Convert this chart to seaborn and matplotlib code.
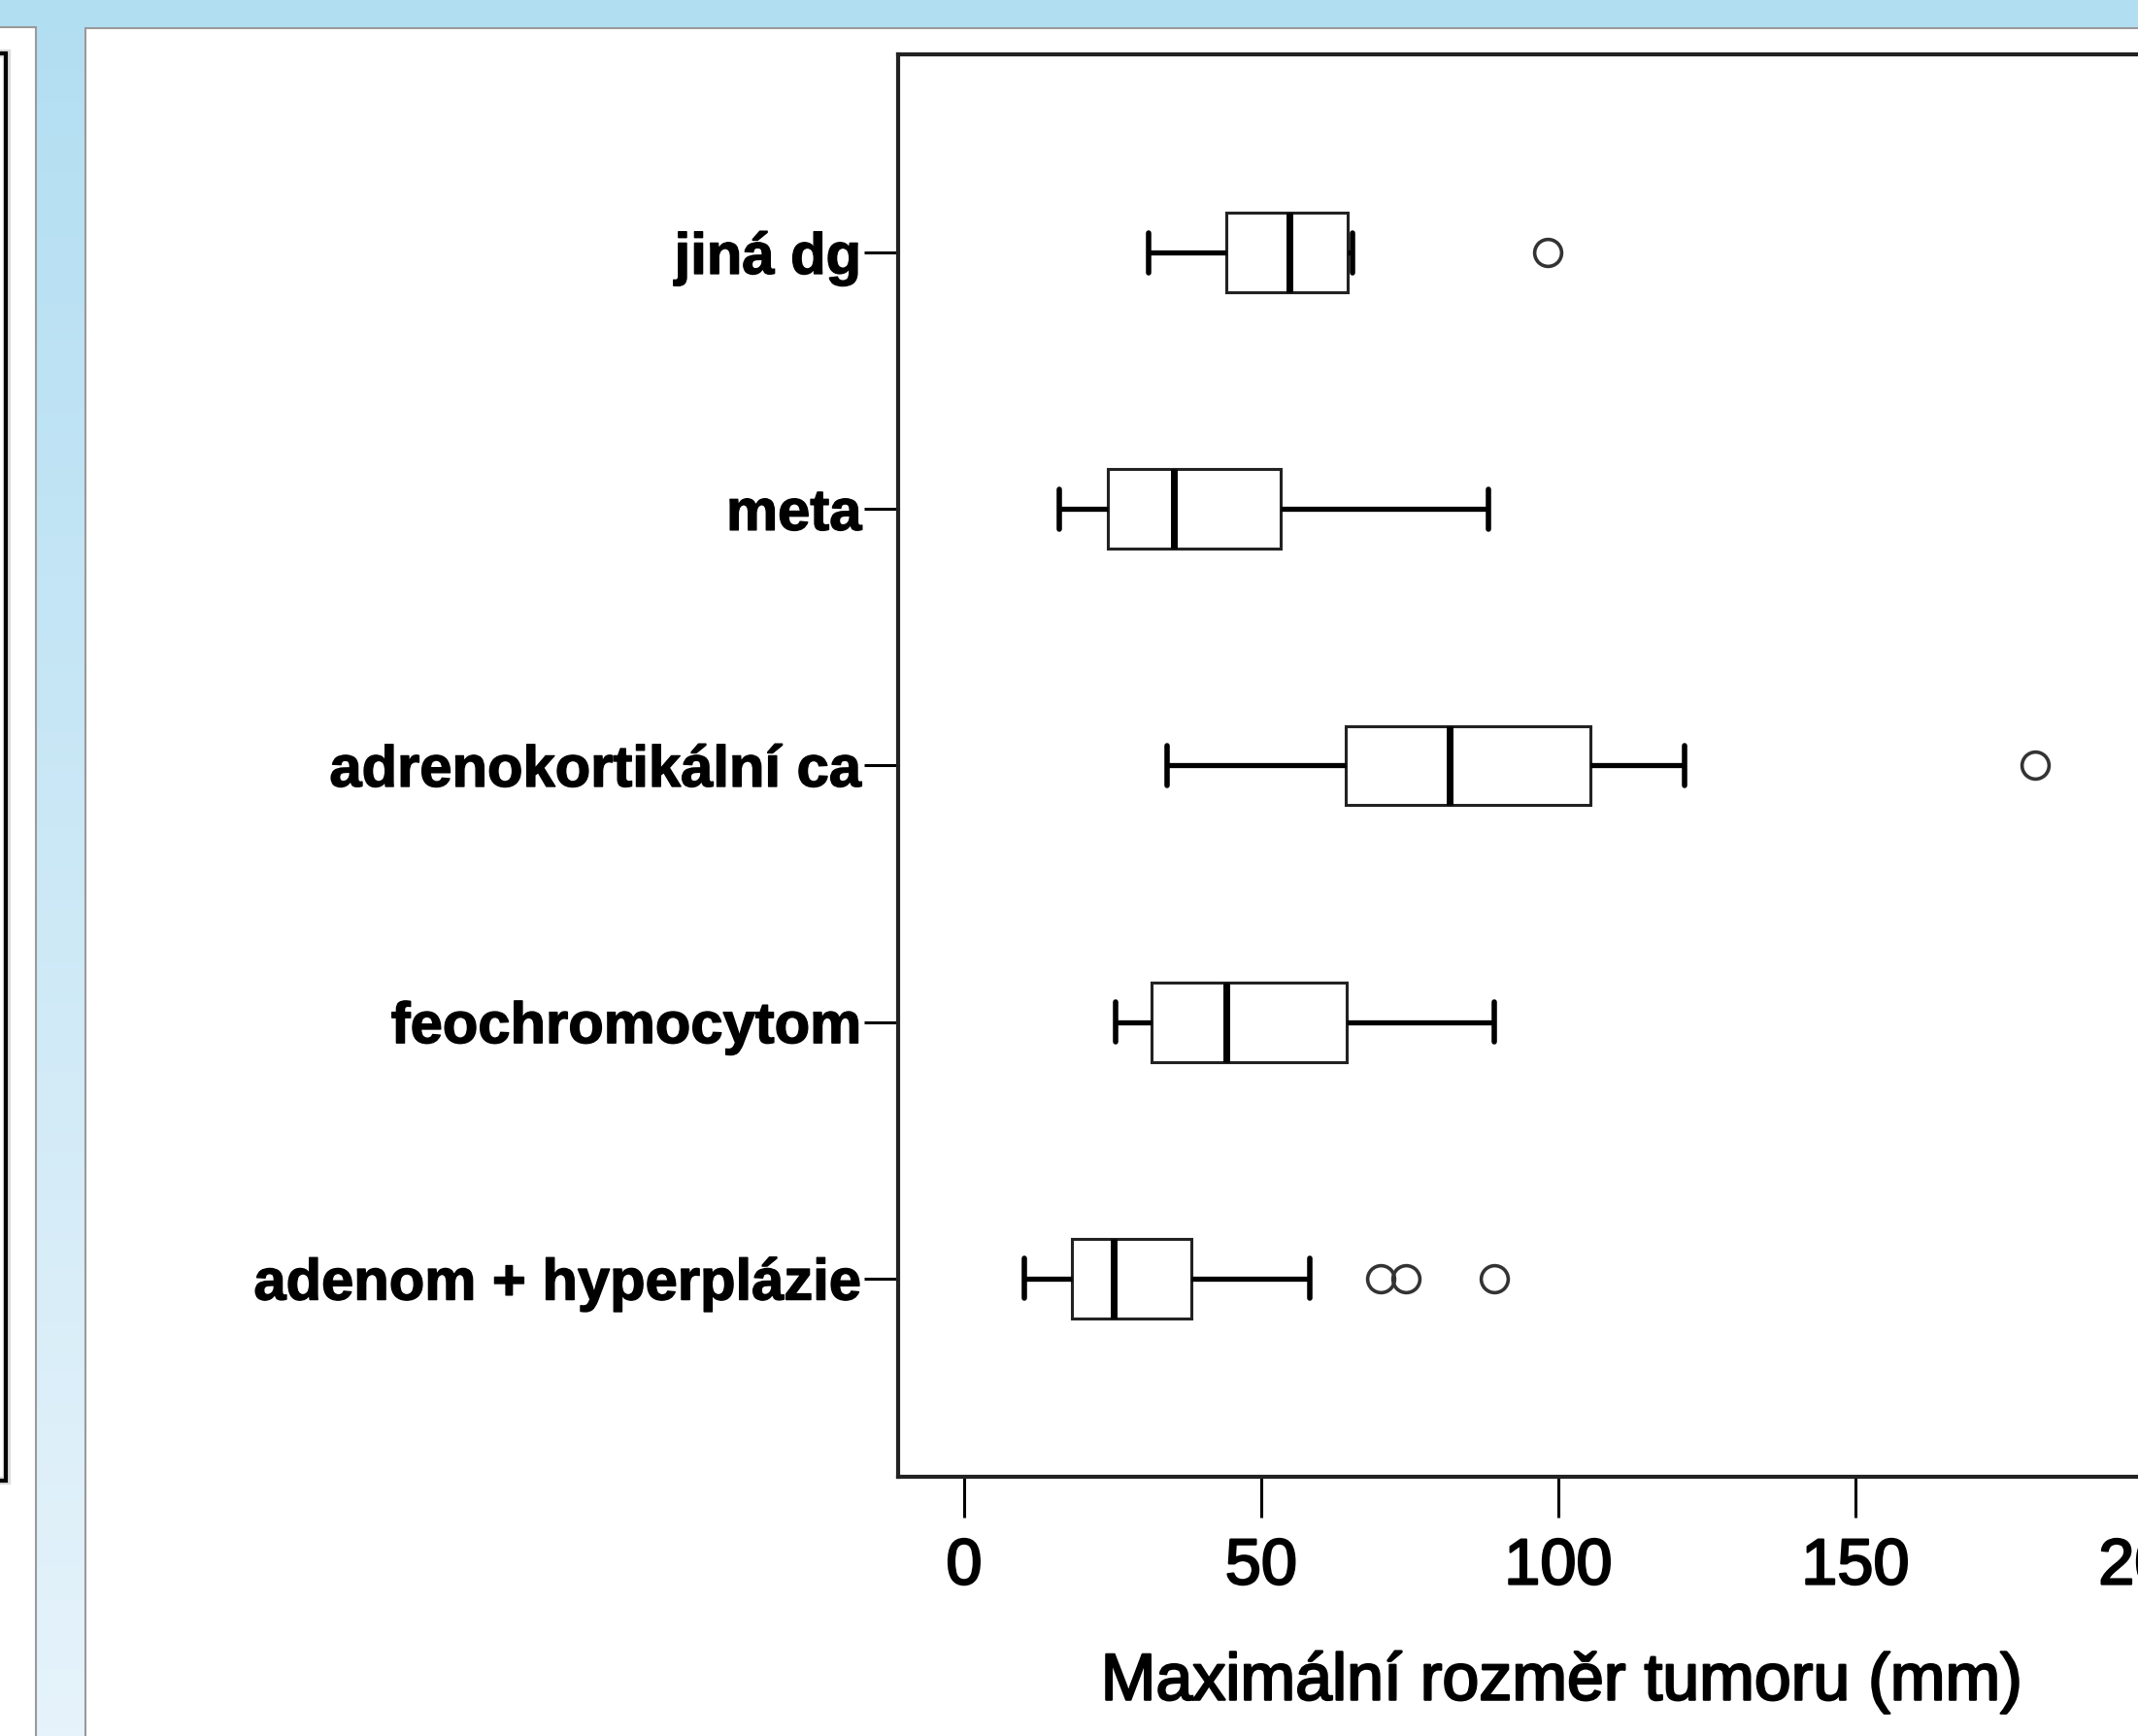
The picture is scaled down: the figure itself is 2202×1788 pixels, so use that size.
"""Boxplot of maximal tumour size by diagnosis (SPSS-like look on a slide)."""

import matplotlib

matplotlib.use("Agg")
import matplotlib.patheffects as pe
import matplotlib.pyplot as plt
import numpy as np
import pandas as pd
import seaborn as sns
from matplotlib.colors import to_rgb
from matplotlib.patches import Rectangle


CATEGORIES = [
    "jiná dg",
    "meta",
    "adrenokortikální ca",
    "feochromocytom",
    "adenom + hyperplázie",
]
JINA_DG = [31.1, 38.0, 44.2, 50.0, 54.7, 60.0, 64.5, 65.3, 98.2]
META = [16.1, 24.2, 35.3, 53.2, 88.3]
ADRENOKORTIKALNI_CA = [34.2, 50.0, 64.2, 74.0, 81.7, 95.0, 105.4, 121.2, 180.2]
FEOCHROMOCYTOM = [25.5, 31.6, 44.2, 64.4, 89.2]
ADENOM_HYPERPLAZIE = [
    10.1, 12.0, 14.5, 16.0, 18.2, 20.0, 22.0, 24.0, 25.2,
    28.0, 31.0, 35.0, 38.3, 58.2, 70.1, 74.4, 89.3,
]
X_TICKS = [0, 50, 100, 150, 200]
X_LABEL = "Maximální rozměr tumoru (mm)"

W, H = 2202, 1788

sns.set_style("white")
plt.rcParams["font.family"] = ["Liberation Sans", "DejaVu Sans"]
plt.rcParams["text.color"] = "black"
plt.rcParams["axes.labelcolor"] = "black"
plt.rcParams["xtick.color"] = "black"
plt.rcParams["ytick.color"] = "black"

groups = [JINA_DG, META, ADRENOKORTIKALNI_CA, FEOCHROMOCYTOM, ADENOM_HYPERPLAZIE]
df = pd.DataFrame(
    [(cat, v) for cat, vals in zip(CATEGORIES, groups) for v in vals],
    columns=["dg", "size"],
)

fig = plt.figure(figsize=(W / 100, H / 100), dpi=100)

# slide background: blue gradient with white panels
bg = fig.add_axes([0, 0, 1, 1], zorder=-10)
bg.set_xlim(0, W)
bg.set_ylim(H, 0)
bg.axis("off")
top_c = np.array(to_rgb("#b2def2"))
bot_c = np.array(to_rgb("#e6f3fb"))
t = np.linspace(0, 1, 256)[:, None, None]
grad = top_c * (1 - t) + bot_c * t
bg.imshow(grad, extent=[0, W, H, 0], aspect="auto")
bg.add_patch(Rectangle((-10, 28), 47, H, facecolor="white",
                       edgecolor="#9a9a9a", lw=1.5))
bg.add_patch(Rectangle((88, 29), W, H, facecolor="white",
                       edgecolor="#9a9a9a", lw=1.5))
bg.add_patch(Rectangle((-30, 55), 37, 1470, facecolor="none",
                       edgecolor="#dcdcdc", lw=6))
bg.add_patch(Rectangle((-30, 55), 36, 1470, facecolor="none",
                       edgecolor="black", lw=3))

ax = fig.add_axes([925 / W, 1 - 1521 / H, (2291 - 925) / W, (1521 - 56) / H])
ax.set_facecolor("white")

sns.boxplot(
    data=df,
    x="size",
    y="dg",
    order=CATEGORIES,
    orient="h",
    width=0.31,
    color="white",
    saturation=1,
    linecolor="#222222",
    linewidth=2.2,
    fliersize=20,
    boxprops=dict(facecolor="white", edgecolor="#222222", linewidth=2.2),
    medianprops=dict(color="black", linewidth=5),
    whiskerprops=dict(color="black", linewidth=3.8),
    capprops=dict(color="black", linewidth=4),
    flierprops=dict(marker="o", markersize=20, markerfacecolor="none",
                    markeredgecolor="#333333", markeredgewidth=2.6),
    ax=ax,
)

ax.set_xlim(-11.1, 212.1)
ax.set_ylim(4.773, -0.773)
ax.set_xticks(X_TICKS)
ax.set_xticklabels([str(v) for v in X_TICKS])
ax.set_yticks(range(len(CATEGORIES)))
ax.set_yticklabels(CATEGORIES, fontweight="bold")
ax.set_ylabel("")
ax.set_xlabel(X_LABEL, fontsize=49, labelpad=39)

for side in ["left", "bottom", "top", "right"]:
    ax.spines[side].set_visible(True)
    ax.spines[side].set_color("#222222")
    ax.spines[side].set_linewidth(3)

ax.tick_params(axis="x", length=30, width=2.2, pad=15, labelsize=48,
               color="black", labelcolor="black", bottom=True)
ax.tick_params(axis="y", length=25, width=2.2, pad=2, labelsize=43,
               color="black", labelcolor="black", left=True)

# the screenshot renders the texts rather heavily
heavy = [pe.withStroke(linewidth=1.6, foreground="black")]
for lab in ax.get_xticklabels():
    lab.set_path_effects(heavy)
for lab in ax.get_yticklabels():
    lab.set_path_effects([pe.withStroke(linewidth=1.0, foreground="black")])
ax.xaxis.label.set_path_effects(heavy)

fig.savefig("out.png", dpi=100)
plt.close(fig)
